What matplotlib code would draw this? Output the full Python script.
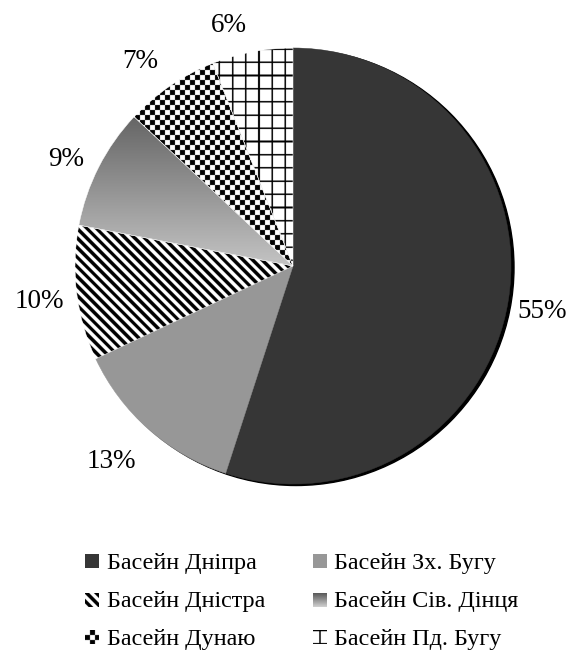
import numpy as np
import matplotlib
matplotlib.use('Agg')
import matplotlib.pyplot as plt
from matplotlib.patches import Circle

plt.rcParams['font.family'] = ['Liberation Serif', 'DejaVu Serif']

labels = ['Басейн Дніпра', 'Басейн Зх. Бугу', 'Басейн Дністра',
          'Басейн Сів. Дінця', 'Басейн Дунаю', 'Басейн Пд. Бугу']
values = [55, 13, 10, 9, 7, 6]
fills = ['solid', 'solid', 'stripes', 'gradient', 'checker', 'grid']
solid_colors = ['#363636', '#979797', None, None, None, None]

W, H, DPI = 570, 651, 100
cx, cy, R = 293, 266, 218

# label centers (pixels) and legend layout
label_pos = [(542, 309), (111, 459), (39, 299), (66, 156), (140, 58), (229, 23)]
leg_cols = [(85, 107), (313, 334)]
leg_rows = [561, 600, 637]
MS = 14

fig = plt.figure(figsize=(W / DPI, H / DPI), dpi=DPI)
fig.patch.set_facecolor('white')


def pattern(kind, x0, y0, w, h, nw, nh, gtop=None, gbot=None, c0=0x65, c1=0xc4,
            gx=284.6, gy=61.5):
    j = np.arange(nw)
    i = np.arange(nh)
    px = x0 + (j + 0.5) * w / nw
    py = y0 + (i + 0.5) * h / nh
    PX, PY = np.meshgrid(px, py)
    if kind == 'stripes':
        P = 9.6
        v = np.where(np.mod(PX - PY, P) < P / 2, 0.0, 1.0)
    elif kind == 'checker':
        c = 5.0
        v = np.where((np.floor(PX / c) + np.floor(PY / c)) % 2 == 0, 0.0, 1.0)
    elif kind == 'grid':
        G = 13.2
        lw = 1.6
        v = np.where((np.mod(PX - gx, G) < lw) | (np.mod(PY - gy, G) < lw), 0.0, 1.0)
    elif kind == 'gradient':
        t = np.clip((PY - gtop) / (gbot - gtop), 0, 1)
        v = (c0 + t * (c1 - c0)) / 255.0
    else:
        v = np.ones_like(PX)
    return np.dstack([v, v, v])


ax = fig.add_axes([(cx - R) / W, 1 - (cy + R) / H, 2 * R / W, 2 * R / H])
# shadow
ax.add_patch(Circle((3 / R, -1.5 / R), 1.0, color='black', zorder=0, clip_on=False))
wedges, _ = ax.pie(values, startangle=90, counterclock=False, radius=1,
                   colors=[c if c else 'none' for c in solid_colors],
                   wedgeprops=dict(edgecolor='white', linewidth=0.35))
ax.set_xlim(-1, 1)
ax.set_ylim(-1, 1)
ax.set_aspect('auto')
ax.axis('off')

N = 4 * R
cum = np.cumsum([0] + values) / sum(values)
for k, (wdg, kind) in enumerate(zip(wedges, fills)):
    wdg.set_clip_on(False)
    if kind == 'solid':
        wdg.set_edgecolor(wdg.get_facecolor())
        continue
    gtop = gbot = None
    if kind == 'gradient':
        a1 = np.deg2rad(90 - 360 * cum[k + 1])
        gtop = cy - R * np.sin(a1)
        gbot = cy
    img = pattern(kind, cx - R, cy - R, 2 * R, 2 * R, N, N, gtop, gbot)
    im = ax.imshow(img, extent=[-1, 1, -1, 1], origin='upper', zorder=1.5,
                   interpolation='antialiased')
    im.set_clip_path(wdg)
    wdg.set_facecolor('none')
    wdg.set_zorder(2)
ax.set_xlim(-1, 1)
ax.set_ylim(-1, 1)
ax.set_aspect('auto')

ov = fig.add_axes([0, 0, 1, 1])
ov.set_xlim(0, W)
ov.set_ylim(H, 0)
ov.axis('off')

for v, (x, y) in zip(values, label_pos):
    ov.text(x, y + 9.5, f'{v}%', fontsize=19.5, ha='center', va='baseline', color='black')

for k, (lab, kind) in enumerate(zip(labels, fills)):
    col = k % 2
    row = k // 2
    mx, tx = leg_cols[col]
    yc = leg_rows[row]
    y0 = yc - MS / 2
    if kind == 'solid':
        c = matplotlib.colors.to_rgb(solid_colors[k])
        img = np.ones((4, 4, 3)) * np.array(c)
    else:
        img = pattern(kind, mx, y0, MS, MS, MS * 4, MS * 4, y0, y0 + MS, 0x58, 0xd2,
                      gx=mx + 6.2, gy=y0 - 0.3)
    ov.imshow(img, extent=[mx, mx + MS, y0 + MS, y0], origin='upper',
              interpolation='antialiased', zorder=2)
    ov.text(tx, yc + 7.5, lab, fontsize=17.4, ha='left', va='baseline', color='black')
ov.set_xlim(0, W)
ov.set_ylim(H, 0)
ov.set_aspect('auto')

fig.savefig('out.png', dpi=DPI, facecolor='white')
